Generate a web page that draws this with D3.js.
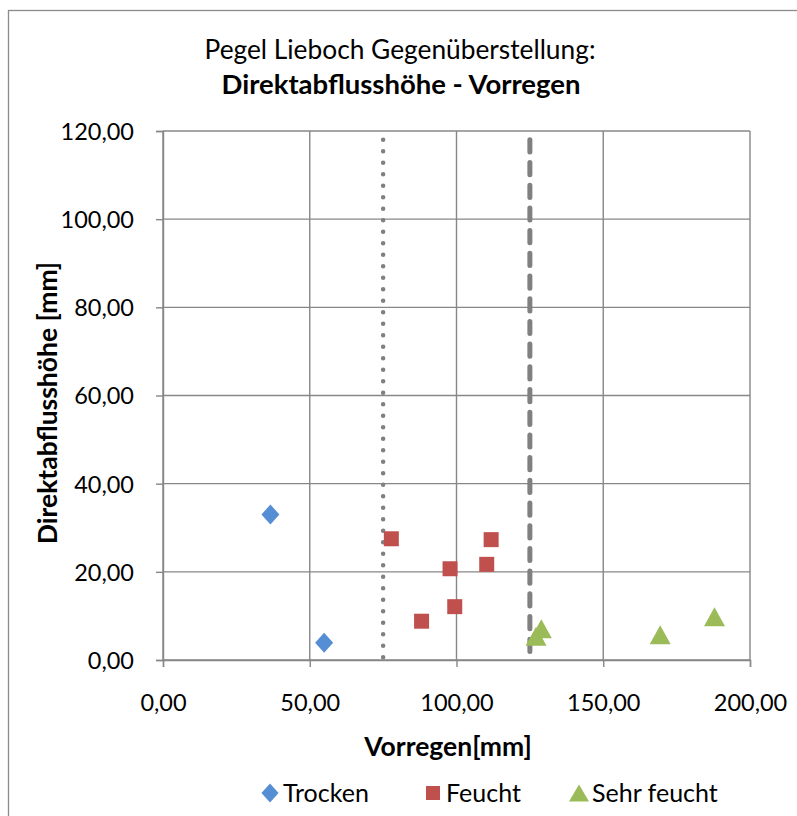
<!DOCTYPE html>
<html>
<head>
<meta charset="utf-8">
<script src="https://cdn.jsdelivr.net/npm/d3@7"></script>
<style>
  html, body { margin: 0; padding: 0; background: #fff; }
  svg { display: block; font-family: Lato, "Noto Sans", sans-serif; }
</style>
</head>
<body>
<svg id="chart" width="797" height="816"></svg>
<script>
// ---- data ----
const titleLine1 = "Pegel Lieboch Gegenüberstellung:";
const titleLine2 = "Direktabflusshöhe - Vorregen";
const xAxisTitle = "Vorregen[mm]";
const yAxisTitle = "Direktabflusshöhe [mm]";
const seriesNames = ["Trocken", "Feucht", "Sehr feucht"];

const trockenX = [36.6, 54.9];
const trockenY = [33.0, 3.9];
const feuchtX = [77.8, 111.8, 97.8, 110.3, 99.4, 88.1];
const feuchtY = [27.5, 27.3, 20.7, 21.7, 12.1, 8.8];
const sehrFeuchtX = [128.9, 127.1, 169.4, 187.9];
const sehrFeuchtY = [7.1, 5.4, 5.7, 9.8];

const guideX = [75, 125];          // dotted, dashed vertical lines
const guideY = [118, 0];

const xTicks = [0, 50, 100, 150, 200];
const yTicks = [0, 20, 40, 60, 80, 100, 120];

// ---- layout ----
const svg = d3.select("#chart");
const L = 163, R = 750, T = 131, B = 660;
const x = d3.scaleLinear().domain([0, 200]).range([L, R]);
const y = d3.scaleLinear().domain([0, 120]).range([B, T]);
const fmt = d => d3.format(".2f")(d).replace(".", ",");
const grid = "#878787";

svg.append("rect").attr("width", 797).attr("height", 816).attr("fill", "#fff");
svg.append("rect").attr("x", 8.5).attr("y", 10.5).attr("width", 820).attr("height", 830)
  .attr("fill", "none").attr("stroke", "#8c8c8c").attr("stroke-width", 1.3);

// gridlines
svg.append("g").selectAll("line").data(yTicks).join("line")
  .attr("x1", L).attr("x2", R).attr("y1", d => y(d)).attr("y2", d => y(d))
  .attr("stroke", grid).attr("stroke-width", 1.4);
svg.append("g").selectAll("line").data(xTicks).join("line")
  .attr("y1", T).attr("y2", B).attr("x1", d => x(d)).attr("x2", d => x(d))
  .attr("stroke", grid).attr("stroke-width", 1.4);

// axes
const xAxis = svg.append("g").attr("transform", `translate(0,${B})`)
  .call(d3.axisBottom(x).tickValues(xTicks).tickFormat(fmt).tickSize(7).tickPadding(36));
const yAxis = svg.append("g").attr("transform", `translate(${L},0)`)
  .call(d3.axisLeft(y).tickValues(yTicks).tickFormat(fmt).tickSize(7).tickPadding(22));
[xAxis, yAxis].forEach(a => {
  a.select(".domain").attr("stroke", grid).attr("stroke-width", 1.4);
  a.selectAll(".tick line").attr("stroke", grid).attr("stroke-width", 1.4);
  a.selectAll("text").attr("font-size", 23.5).attr("fill", "#000")
    .attr("font-family", "Lato, 'Noto Sans', sans-serif");
});
yAxis.selectAll("text").attr("dy", "0.36em");
xAxis.selectAll("text").attr("dy", "0.36em");

// guide lines
const guideStyles = [
  { w: 4.5, dash: "0 11.5" },
  { w: 5, dash: "12.2 10.5" }
];
guideX.forEach((gx, i) => {
  svg.append("line")
    .attr("x1", x(gx)).attr("x2", x(gx))
    .attr("y1", y(guideY[0])).attr("y2", y(guideY[1]))
    .attr("stroke", "#808080").attr("stroke-width", guideStyles[i].w)
    .attr("stroke-linecap", "round").attr("stroke-dasharray", guideStyles[i].dash);
});

// markers
const colors = ["#558ed5", "#c0504d", "#9bbb59"];
const diamond = s => `M0,${-s}L${s*0.9},0L0,${s}L${-s*0.9},0Z`;
const square = s => `M${-s},${-s}H${s}V${s}H${-s}Z`;
const triangle = (w, h) => `M0,${-h/2}L${w/2},${h/2}L${-w/2},${h/2}Z`;

function pts(xs, ys) { return xs.map((v, i) => ({ x: v, y: ys[i] })); }

svg.append("g").selectAll("path").data(pts(trockenX, trockenY)).join("path")
  .attr("d", diamond(10)).attr("fill", colors[0])
  .attr("transform", d => `translate(${x(d.x)},${y(d.y)})`);
svg.append("g").selectAll("path").data(pts(feuchtX, feuchtY)).join("path")
  .attr("d", square(7.5)).attr("fill", colors[1])
  .attr("transform", d => `translate(${x(d.x)},${y(d.y)})`);
svg.append("g").selectAll("path").data(pts(sehrFeuchtX, sehrFeuchtY)).join("path")
  .attr("d", triangle(21, 19)).attr("fill", colors[2])
  .attr("transform", d => `translate(${x(d.x)},${y(d.y)})`);

// titles
svg.append("text").attr("x", 400).attr("y", 59).attr("text-anchor", "middle")
  .attr("font-size", 26.3).text(titleLine1);
svg.append("text").attr("x", 401).attr("y", 94).attr("text-anchor", "middle")
  .attr("font-size", 27.5).attr("font-weight", "bold").text(titleLine2);
svg.append("text").attr("x", 448).attr("y", 756).attr("text-anchor", "middle")
  .attr("font-size", 26.5).attr("font-weight", "bold").text(xAxisTitle);
svg.append("text").attr("transform", "translate(57,403) rotate(-90)").attr("text-anchor", "middle")
  .attr("font-size", 26.5).attr("font-weight", "bold").text(yAxisTitle);

// legend
const legendX = [283, 446, 592];
const lg = svg.append("g");
seriesNames.forEach((name, i) => {
  const cx = legendX[i] - 13, cy = 793;
  const m = lg.append("path").attr("fill", colors[i]).attr("transform", `translate(${cx},${cy})`);
  if (i === 0) m.attr("d", diamond(9.5));
  else if (i === 1) m.attr("d", square(7));
  else m.attr("d", triangle(20, 17));
  lg.append("text").attr("x", legendX[i]).attr("y", cy).attr("dy", "0.36em")
    .attr("font-size", 25).text(name);
});
</script>
</body>
</html>
